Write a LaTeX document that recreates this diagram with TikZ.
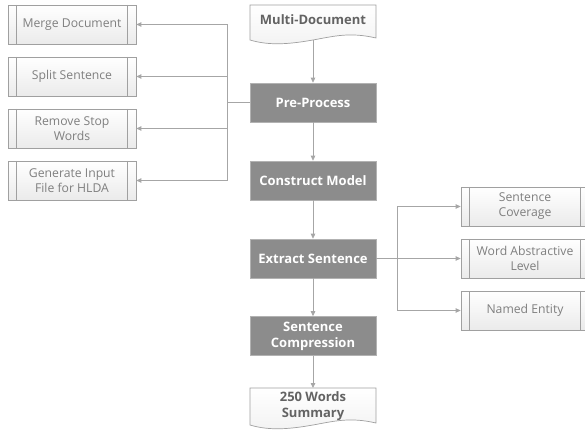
\documentclass[tikz,border=0pt]{standalone}
\usepackage{fontspec}
\setmainfont{Open Sans}
\usetikzlibrary{arrows.meta}
\definecolor{lineg}{HTML}{A6A6A6}
\definecolor{boxb}{HTML}{A0A0A0}
\definecolor{darkf}{HTML}{8C8C8C}
\definecolor{txtg}{HTML}{7F7F7F}
\definecolor{doctxt}{HTML}{636363}
\tikzset{
  conn/.style={draw=lineg, line width=0.8pt, -{Triangle[length=5pt,width=4.5pt]}},
  subbox/.style={draw=boxb, line width=0.7pt, top color=white, bottom color=black!8,
    minimum width=128pt, minimum height=39pt, inner sep=0pt, align=center,
    text=txtg, font=\fontsize{12.2}{15}\selectfont,
    path picture={
      \draw[boxb, line width=0.7pt] ([xshift=8pt]path picture bounding box.north west) -- ([xshift=8pt]path picture bounding box.south west);
      \draw[boxb, line width=0.7pt] ([xshift=-9pt]path picture bounding box.north east) -- ([xshift=-9pt]path picture bounding box.south east);
    }},
  procbox/.style={draw=black!30, line width=0.6pt, fill=darkf, minimum width=126pt, minimum height=39pt,
    inner sep=0pt, align=center, text=white, font=\bfseries\fontsize{13}{16}\selectfont},
  doctext/.style={inner sep=0pt, align=center, text=doctxt, font=\bfseries\fontsize{13}{16}\selectfont},
  docshape/.style={draw=boxb, line width=0.7pt, top color=white, bottom color=black!5}
}
\begin{document}
\begin{tikzpicture}[x=1pt,y=-1pt]
\useasboundingbox (0,0) rectangle (585,435);
% left sub-process boxes
\node[subbox] (merge) at (72,24.5) {Merge Document};
\node[subbox] (split) at (72,76.5) {Split Sentence};
\node[subbox] (stop) at (72,128.5) {Remove Stop\\Words};
\node[subbox] (gen) at (72,180.5) {Generate Input\\File for HLDA};
% documents
\path[docshape] (250,5) -- (376,5) -- (376,38)
  .. controls (350,32) and (335,36) .. (313,40)
  .. controls (290,44) and (270,46) .. (250,40) -- cycle;
\node[doctext] (multi) at (313,20) {Multi-Document};
\coordinate (multib) at (313,40);
\path[docshape] (250,388) -- (376,388) -- (376,423)
  .. controls (350,417) and (335,421) .. (313,425)
  .. controls (290,429) and (270,431) .. (250,425) -- cycle;
\node[doctext] (summ) at (313,406) {250 Words\\Summary};
\coordinate (summt) at (313,388);
% process boxes
\node[procbox] (pre) at (313,102.5) {Pre-Process};
\node[procbox] (cons) at (313,180.5) {Construct Model};
\node[procbox] (ext) at (313,258.5) {Extract Sentence};
\node[procbox] (comp) at (313,336) {Sentence\\Compression};
% right boxes
\node[subbox] (cov) at (525,206.5) {Sentence\\Coverage};
\node[subbox] (wal) at (525,258.5) {Word Abstractive\\Level};
\node[subbox] (ne) at (525,310.5) {Named Entity};
% connectors
\draw[conn] (multib) -- (pre.north);
\draw[conn] (pre.south) -- (cons.north);
\draw[conn] (cons.south) -- (ext.north);
\draw[conn] (ext.south) -- (comp.north);
\draw[conn] (comp.south) -- (summt);
\foreach \b in {merge,split,stop,gen}
  \draw[conn] (pre.west) -- ++(-22,0) |- (\b.east);
\foreach \b in {cov,wal,ne}
  \draw[conn] (ext.east) -- ++(21,0) |- (\b.west);
\end{tikzpicture}
\end{document}
